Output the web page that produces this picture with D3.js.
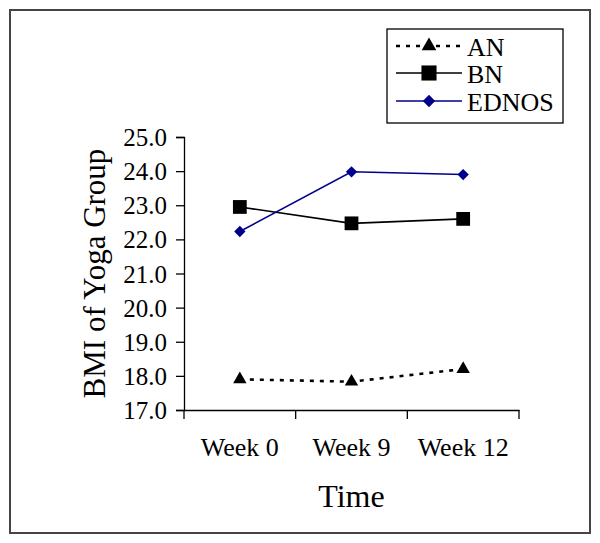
<!DOCTYPE html>
<html><head><meta charset="utf-8">
<script src="https://cdn.jsdelivr.net/npm/d3@7"></script>
<style>body{margin:0;background:#fff}svg{display:block}text{font-family:"Liberation Serif","Times New Roman",serif;fill:#000}</style>
</head><body>
<script>
const categories = ["Week 0","Week 9","Week 12"];
const anValues = [17.9, 17.83, 18.2];
const bnValues = [22.95, 22.47, 22.6];
const ednosValues = [22.23, 23.98, 23.9];
const yTicks = [17,18,19,20,21,22,23,24,25];
const seriesNames = ["AN","BN","EDNOS"];

(function(){
const W=600,H=543;
const svg=d3.select("body").append("svg").attr("width",W).attr("height",H);
svg.append("rect").attr("x",10).attr("y",10).attr("width",580).attr("height",523)
  .attr("fill","#fff").attr("stroke","#444").attr("stroke-width",2);

const pl=184,pr=519,pt=137,pb=410;
const x=d3.scaleBand().domain(categories).range([pl,pr]);
const y=d3.scaleLinear().domain([17,25]).range([pb,pt]);

const ya=svg.append("g").attr("transform",`translate(${pl},0)`)
  .call(d3.axisLeft(y).tickValues(yTicks).tickFormat(d3.format(".1f")).tickSize(8).tickPadding(9));
ya.select(".domain").attr("stroke","#000").attr("stroke-width",1.3);
ya.selectAll(".tick line").attr("stroke","#000").attr("stroke-width",1.3);
ya.selectAll("text").style("font-size","25px").attr("font-family",null).attr("dy","0.34em");

const xa=svg.append("g").attr("transform",`translate(0,${pb})`)
  .call(d3.axisBottom(x).tickSize(0).tickPadding(28));
xa.select(".domain").attr("stroke","#000").attr("stroke-width",1.3);
xa.selectAll(".tick line").remove();
xa.selectAll("text").style("font-size","26px").attr("font-family",null);
const bounds=[pl].concat(categories.map(c=>x(c)+x.bandwidth()));
svg.append("g").selectAll("line").data(bounds).join("line")
  .attr("x1",d=>d).attr("x2",d=>d).attr("y1",pb).attr("y2",pb+9)
  .attr("stroke","#000").attr("stroke-width",1.3);

svg.append("text").attr("x",(pl+pr)/2).attr("y",507).attr("text-anchor","middle")
  .style("font-size","32px").text("Time");
svg.append("text").attr("transform",`translate(105,${(pt+pb)/2}) rotate(-90)`)
  .attr("text-anchor","middle").style("font-size","31px").text("BMI of Yoga Group");

const cx=c=>x(c)+x.bandwidth()/2;
const line=d3.line().x((d,i)=>cx(categories[i])).y(d=>y(d));

const series=[
  {name:"AN",vals:anValues,color:"#000",dash:"4,6",sym:d3.symbolTriangle,size:78,rot:0,w:2.6},
  {name:"BN",vals:bnValues,color:"#000",dash:null,sym:d3.symbolSquare,size:190,rot:0,w:1.6},
  {name:"EDNOS",vals:ednosValues,color:"#00008b",dash:null,sym:d3.symbolSquare,size:64,rot:45,w:1.6}
];
series.forEach(s=>{
  svg.append("path").datum(s.vals).attr("d",line).attr("fill","none")
    .attr("stroke",s.color).attr("stroke-width",s.w)
    .attr("stroke-dasharray",s.dash);
  svg.append("g").selectAll("path").data(s.vals).join("path")
    .attr("transform",(d,i)=>`translate(${cx(categories[i])},${y(d)}) rotate(${s.rot})`)
    .attr("d",d3.symbol(s.sym,s.size)).attr("fill",s.color);
});

const lg=svg.append("g");
lg.append("rect").attr("x",387).attr("y",29).attr("width",176).attr("height",94)
  .attr("fill","#fff").attr("stroke","#000").attr("stroke-width",1.3);
const ly=[46,73,101];
series.forEach((s,i)=>{
  const yy=ly[i];
  lg.append("line").attr("x1",396).attr("x2",462).attr("y1",yy).attr("y2",yy)
    .attr("stroke",s.color).attr("stroke-width",s.w).attr("stroke-dasharray",s.dash);
  lg.append("path").attr("transform",`translate(429,${yy}) rotate(${s.rot})`).attr("d",d3.symbol(s.sym,s.size*1.2)).attr("fill",s.color);
  lg.append("text").attr("x",467).attr("y",yy+10).style("font-size","26px").text(seriesNames[i]);
});
})();
</script>
</body></html>
